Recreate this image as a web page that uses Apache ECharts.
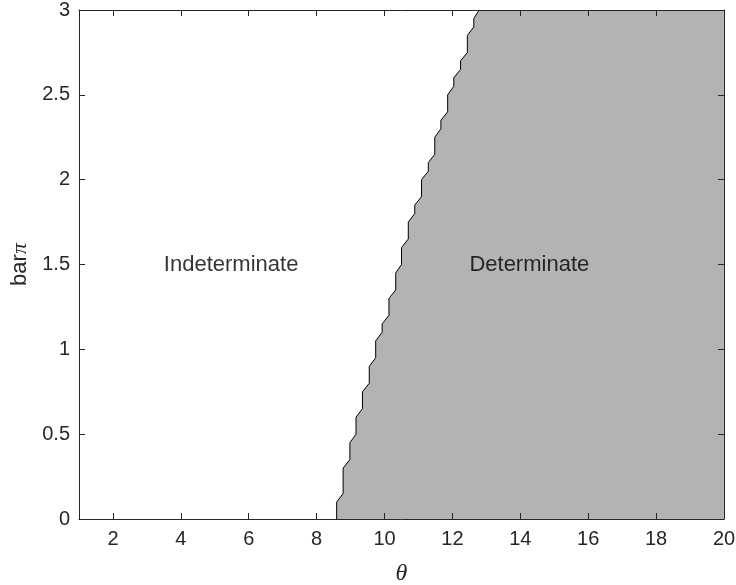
<!DOCTYPE html>
<html>
<head>
<meta charset="utf-8">
<script src="https://cdn.jsdelivr.net/npm/echarts@6/dist/echarts.min.js"></script>
<style>html,body{margin:0;padding:0;background:#fff}#c{width:736px;height:585px}</style>
</head>
<body>
<div id="c"></div>
<script>
// Boundary between regions (theta, barPi)
const boundaryTheta = [8.59, 8.59, 8.78, 8.78, 8.98, 8.98, 9.16, 9.16, 9.35, 9.35, 9.55, 9.55, 9.74, 9.74, 9.93, 9.93, 10.13, 10.13, 10.33, 10.33, 10.50, 10.50, 10.70, 10.70, 10.89, 10.89, 11.09, 11.09, 11.29, 11.29, 11.48, 11.48, 11.66, 11.66, 11.86, 11.86, 12.04, 12.04, 12.24, 12.24, 12.44, 12.44, 12.63, 12.63, 12.79];
const boundaryPi = [0, 0.10, 0.15, 0.30, 0.35, 0.45, 0.50, 0.60, 0.65, 0.75, 0.80, 0.90, 0.95, 1.05, 1.10, 1.15, 1.20, 1.30, 1.35, 1.45, 1.50, 1.60, 1.65, 1.75, 1.80, 1.85, 1.90, 2.00, 2.05, 2.10, 2.15, 2.25, 2.30, 2.35, 2.40, 2.50, 2.55, 2.60, 2.65, 2.70, 2.75, 2.85, 2.90, 2.95, 3.00];
// Region corner closing the shaded region
const cornerTheta = [20];
const cornerPi = [3];
// Region labels
const regionNames = ['Indeterminate', 'Determinate'];
const regionTheta = [3.5, 12.5];
const regionPi = [1.5, 1.5];
// Ticks
const xTicks = [2, 4, 6, 8, 10, 12, 14, 16, 18, 20];
const yTicks = [0, 0.5, 1, 1.5, 2, 2.5, 3];
const xRange = [1, 20];
const yRange = [0, 3];

const boundary = boundaryTheta.map((t, i) => [t, boundaryPi[i]]);
const fillPts = boundary.concat(cornerTheta.map((t, i) => [t, cornerPi[i]]));
const labelPts = regionTheta.map((t, i) => ({ value: [t, regionPi[i]], name: regionNames[i] }));

const AX = '#262626';
const FONT = 'Liberation Sans';
function xAx(pos, showLabel) {
  return {
    type: 'value', position: pos, min: xRange[0], max: xRange[1], z: 5,
    axisLine: { show: true, onZero: false, lineStyle: { color: AX, width: 1 } },
    axisTick: { show: true, inside: true, length: 6, customValues: xTicks, lineStyle: { color: AX } },
    axisLabel: { show: showLabel, customValues: xTicks, color: AX, fontSize: 20, fontFamily: FONT, margin: 10 },
    splitLine: { show: false }
  };
}
function yAx(pos, showLabel) {
  return {
    type: 'value', position: pos, min: yRange[0], max: yRange[1], z: 5,
    axisLine: { show: true, onZero: false, lineStyle: { color: AX, width: 1 } },
    axisTick: { show: true, inside: true, length: 6, customValues: yTicks, lineStyle: { color: AX } },
    axisLabel: { show: showLabel, customValues: yTicks, color: AX, fontSize: 20, fontFamily: FONT, margin: 9 },
    splitLine: { show: false }
  };
}
const xBottom = xAx('bottom', true);
xBottom.name = 'θ';
xBottom.nameLocation = 'middle';
xBottom.nameGap = 43;
xBottom.nameTextStyle = { color: AX, fontSize: 24, fontStyle: 'italic', fontFamily: 'Liberation Serif' };
const yLeft = yAx('left', true);
yLeft.name = 'bar{i|π}';
yLeft.nameLocation = 'middle';
yLeft.nameGap = 46;
yLeft.nameTextStyle = { color: AX, fontSize: 22, fontFamily: FONT,
  rich: { i: { fontSize: 22, fontStyle: 'italic', fontFamily: 'Liberation Serif', color: AX } } };

const chart = echarts.init(document.getElementById('c'), null, { renderer: 'canvas' });
chart.setOption({
  animation: false,
  backgroundColor: '#fff',
  grid: { left: 79, right: 12, top: 10, bottom: 66, containLabel: false, outerBoundsMode: 'none' },
  xAxis: [xBottom, xAx('top', false)],
  yAxis: [yLeft, yAx('right', false)],
  series: [
    { type: 'line', data: fillPts, showSymbol: false, symbol: 'none', z: 1,
      lineStyle: { width: 0, opacity: 0 }, areaStyle: { color: '#b3b3b3', opacity: 1 } },
    { type: 'line', data: boundary, showSymbol: false, symbol: 'none', z: 2,
      lineStyle: { width: 1, color: '#000' } },
    { type: 'scatter', data: labelPts, symbolSize: 0, z: 3,
      label: { show: true, position: 'right', distance: 0, formatter: p => p.name,
        color: '#000', fontSize: 22, fontFamily: FONT } }
  ]
});
</script>
</body>
</html>
